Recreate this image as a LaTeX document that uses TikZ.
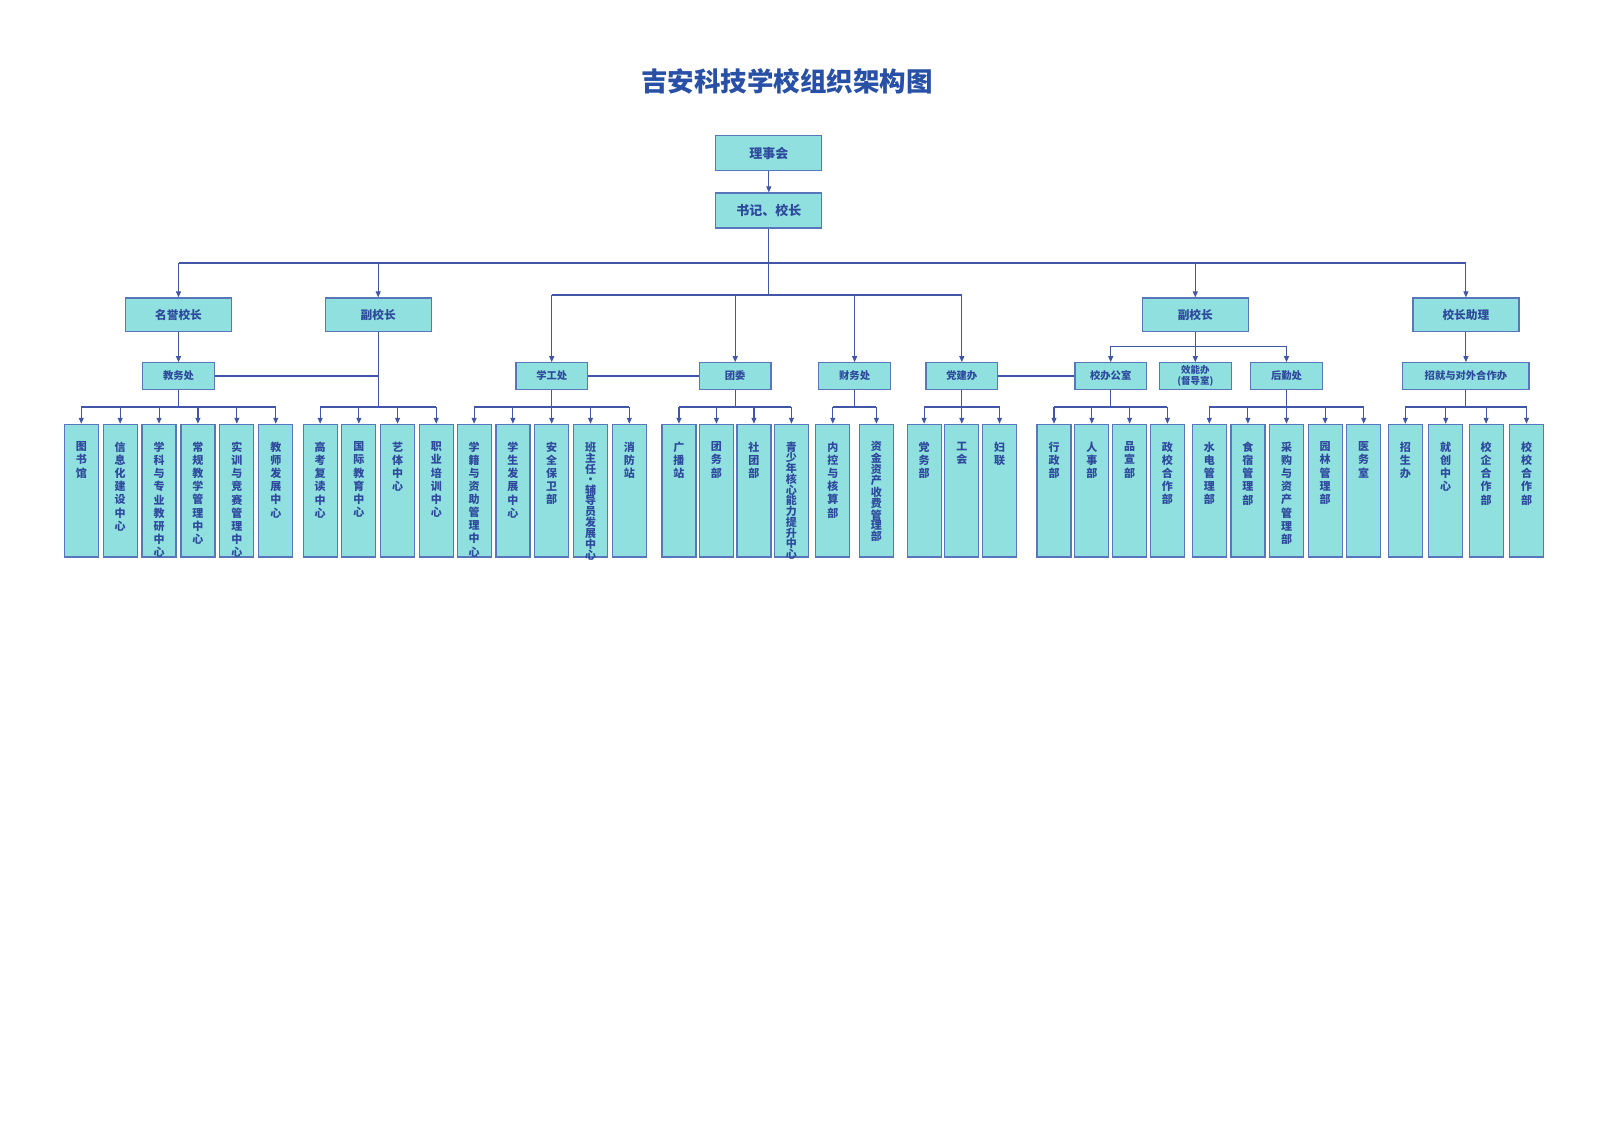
\documentclass[tikz,border=0pt]{standalone}
\usepackage{fontspec}
\setmainfont{Noto Sans CJK SC}
\usetikzlibrary{arrows.meta}
\definecolor{boxfill}{RGB}{145,224,224}
\definecolor{boxline}{RGB}{88,118,188}
\definecolor{linkblue}{RGB}{66,86,168}
\definecolor{textblue}{RGB}{46,74,156}
\definecolor{titleblue}{RGB}{40,80,166}
% one character per line, #1 = line pitch
\def\vstackfirst#1{#1\vstacknext}
\def\vstacknext#1{\ifx#1\vstackend\else\\#1\expandafter\vstacknext\fi}
\newcommand{\vstack}[2]{\parbox[c][98pt][t]{20pt}{\centering\fontsize{11}{#1}\selectfont\bfseries\expandafter\vstackfirst#2\vstackend}}

\tikzset{
  unitbox/.style={draw=boxline, fill=boxfill, line width=1.2pt, text=textblue, inner sep=0pt},
  topbox/.style={unitbox, minimum width=106pt, minimum height=35pt, font=\fontsize{13}{15}\selectfont\bfseries},
  headbox/.style={unitbox, minimum width=106pt, minimum height=33.5pt, font=\fontsize{11.7}{14}\selectfont\bfseries},
  deptbox/.style={unitbox, minimum width=71.6pt, minimum height=26.5pt, font=\fontsize{10.3}{12}\selectfont\bfseries},
  leaf/.style={unitbox, minimum width=34pt, minimum height=132.7pt},
  link/.style={draw=linkblue, line width=1.1pt},
  arr/.style={link, -{Triangle[length=6pt,width=5pt]}},
}

\begin{document}
\begin{tikzpicture}[x=1pt,y=-1pt]
    \fill[white] (0,0) rectangle (1600,1131);
    % Title
    \node[font=\fontsize{26.5}{30}\selectfont\bfseries, text=titleblue] (title) at (787,81) {吉安科技学校组织架构图};
    % Top
    \node[topbox] (board) at (768.8,153.2) {理事会};
    \node[topbox] (head) at (768.8,210.5) {书记、校长};
    % Second level
    \node[headbox] (honor) at (178.5,314.7) {名誉校长};
    \node[headbox] (vpleft) at (378.2,314.7) {副校长};
    \node[headbox] (vpright) at (1195.3,314.7) {副校长};
    \node[headbox] (assist) at (1465.9,314.7) {校长助理};
    % Departments
    \node[deptbox] (jiaowu) at (178.5,376) {教务处};
    \node[deptbox] (xuegong) at (551.7,376) {学工处};
    \node[deptbox] (tuanwei) at (735.2,376) {团委};
    \node[deptbox] (caiwu) at (854.6,376) {财务处};
    \node[deptbox] (dangjian) at (961.8,376) {党建办};
    \node[deptbox] (xiaoban) at (1110.7,376) {校办公室};
    \node[deptbox, align=center, font=\fontsize{9.5}{11.7}\selectfont\bfseries] (xiaoneng) at (1195.3,376) {效能办\\(督导室)};
    \node[deptbox] (houqin) at (1286.5,376) {后勤处};
    \node[deptbox, minimum width=126.3pt] (zhaojiu) at (1465.9,376) {招就与对外合作办};
    % Bus lines
    \coordinate (busA) at (768.8,263);
    \coordinate (busB) at (768.8,295);
    \coordinate (busC) at (1195.3,346.5);
    \coordinate (busL) at (0,407);
    % Leaves
    \foreach \t/\p [count=\i] in {图书馆/13.2, 信息化建设中心/13.2, 学科与专业教研中心/13.2, 常规教学管理中心/13.2, 实训与竞赛管理中心/13.2, 教师发展中心/13.2}
        \node[leaf] (jw\i) at ({178.5+(\i-3.5)*38.9},490.7) {\vstack{\p}{\t}};
    \foreach \t/\p [count=\i] in {高考复读中心/13.2, 国际教育中心/13.2, 艺体中心/13.2, 职业培训中心/13.2}
        \node[leaf] (vl\i) at ({378.2+(\i-2.5)*38.7},490.7) {\vstack{\p}{\t}};
    \foreach \t/\p [count=\i] in {学籍与资助管理中心/13.1, 学生发展中心/13.2, 安全保卫部/13.2, 班主任·辅导员发展中心/10.5, 消防站/13.2}
        \node[leaf] (xg\i) at ({551.7+(\i-3)*38.8},490.7) {\vstack{\p}{\t}};
    \foreach \t/\p [count=\i] in {广播站/13.2, 团务部/13.2, 社团部/13.2, 青少年核心能力提升中心/10.5}
        \node[leaf] (tw\i) at ({735.2+(\i-2.5)*37.5},490.7) {\vstack{\p}{\t}};
    \foreach \t/\p [count=\i] in {内控与核算部/13.2, 资金资产收费管理部/10.4}
        \node[leaf] (cw\i) at ({854.6+(\i-1.5)*43.6},490.7) {\vstack{\p}{\t}};
    \foreach \t/\p [count=\i] in {党务部/13.2, 工会/13.2, 妇联/13.2}
        \node[leaf] (dj\i) at ({961.8+(\i-2)*37.7},490.7) {\vstack{\p}{\t}};
    \foreach \t/\p [count=\i] in {行政部/13.2, 人事部/13.2, 品宣部/13.2, 政校合作部/13.2}
        \node[leaf] (xb\i) at ({1110.7+(\i-2.5)*37.8},490.7) {\vstack{\p}{\t}};
    \foreach \t/\p [count=\i] in {水电管理部/13.2, 食宿管理部/13.2, 采购与资产管理部/13.2, 园林管理部/13.2, 医务室/13.2}
        \node[leaf] (hq\i) at ({1286.5+(\i-3)*38.6},490.7) {\vstack{\p}{\t}};
    \foreach \t/\p [count=\i] in {招生办/13.2, 就创中心/13.2, 校企合作部/13.2, 校校合作部/13.2}
        \node[leaf] (zj\i) at ({1465.9+(\i-2.5)*40.4},490.7) {\vstack{\p}{\t}};
    % Connectors
    \draw[arr] (board) -- (head);
    \draw[link] (head) -- (busB);
    \draw[link] (honor |- busA) -- (assist |- busA);
    \foreach \n in {honor, vpleft, vpright, assist}
        \draw[arr] (\n |- busA) -- (\n);
    \draw[link] (xuegong |- busB) -- (dangjian |- busB);
    \foreach \n in {xuegong, tuanwei, caiwu, dangjian}
        \draw[arr] (\n |- busB) -- (\n);
    \draw[arr] (honor) -- (jiaowu);
    \draw[arr] (assist) -- (zhaojiu);
    \draw[link] (vpright) -- (busC);
    \draw[link] (xiaoban |- busC) -- (houqin |- busC);
    \foreach \n in {xiaoban, xiaoneng, houqin}
        \draw[arr] (\n |- busC) -- (\n);
    \draw[link] (jiaowu) -- (jiaowu -| vpleft);
    \draw[link] (xuegong) -- (tuanwei);
    \draw[link] (dangjian) -- (xiaoban);
    \foreach \grp/\boss/\num in {jw/jiaowu/6, vl/vpleft/4, xg/xuegong/5, tw/tuanwei/4, cw/caiwu/2, dj/dangjian/3, xb/xiaoban/4, hq/houqin/5, zj/zhaojiu/4} {
        \draw[link] (\boss) -- (\boss |- busL);
        \draw[link] (\grp1 |- busL) -- (\grp\num |- busL);
        \foreach \i in {1,...,\num}
            \draw[arr] (\grp\i |- busL) -- (\grp\i);
    }
\end{tikzpicture}
\end{document}
